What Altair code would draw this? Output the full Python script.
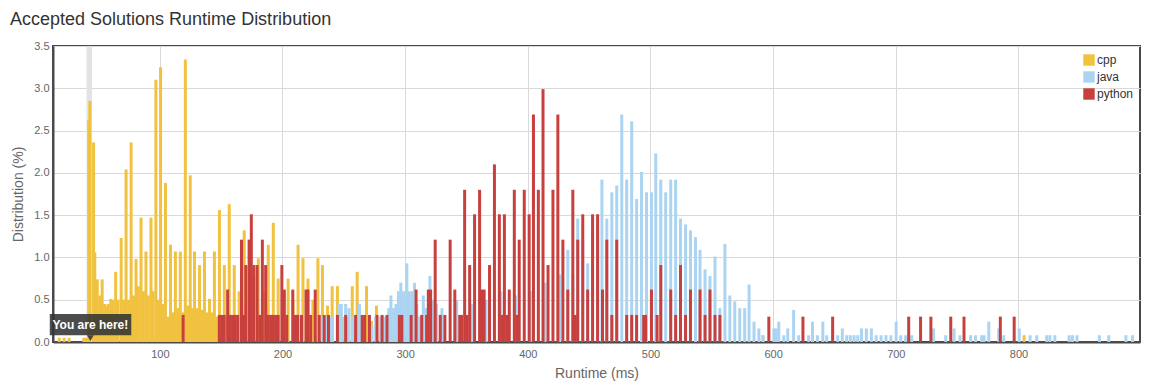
import altair as alt
import pandas as pd

# ---------------- data ----------------
langs = ["cpp", "java", "python"]
colors = ["#F0C23F", "#ABD4F2", "#C8403E"]

cpp_ms = [18, 22, 26, 38, 40, 42, 43, 46, 47, 49, 51, 53, 55, 56, 58, 60, 62, 64, 66,
          68.5, 70.5, 72.5, 74.5, 76.6, 78.5, 80.6, 82.5, 84.7, 86.6, 88.7, 90.6, 92.8,
          94.6, 96.8, 98.7, 100.6, 102.7, 104.6, 106.5, 108.7, 110.5, 112.7, 114.6, 116.7,
          118.6, 120.8, 122.7, 124.8, 126.5, 128.3, 130.4, 132.4, 134.4, 136.4, 138.5,
          140.5, 142.5, 144.5, 146.5, 148.6, 150.6, 152.6, 154.6, 156.6, 158.7, 160.7,
          164.7, 168.8, 172.8, 176.6, 180.3, 184.4, 188.4, 192.5, 196.5, 200.5, 204.6,
          208.6, 212.7, 216.7, 220.8, 224.8, 228.9, 232.6, 236.7, 240.5, 244.8, 248.8,
          252.9, 256.9, 260.9, 264.5, 268.5, 272.5, 276.6, 280, 290, 300, 591.7, 804.6]
cpp_pct = [0.05, 0.05, 0.05, 0.05, 0.05, 2.62, 2.85, 2.36, 1.06, 0.74, 0.55, 0.74, 0.45, 0.43,
           0.45, 0.51, 0.5, 0.83, 0.5, 1.23, 0.5, 2.04, 0.5, 2.36, 0.55, 0.98, 0.66, 1.47,
           0.6, 1.07, 0.55, 1.47, 0.6, 3.1, 0.5, 3.25, 0.45, 1.88, 0.3, 1.15, 0.35, 1.07,
           0.4, 1.07, 0.35, 3.34, 0.43, 1.97, 0.4, 1.07, 0.4, 0.91, 0.38, 1.07, 0.35, 0.51,
           0.35, 1.07, 0.3, 1.56, 0.3, 0.91, 0.3, 1.63, 0.3, 0.91, 0.6, 1.32, 0.9, 0.8,
           0.99, 0.6, 1.15, 1.41, 0.75, 0.6, 0.75, 0.5, 1.15, 0.99, 0.75, 0.5, 0.99, 0.91,
           0.43, 0.66, 0.66, 0.3, 0.3, 0.66, 0.83, 0.3, 0.66, 0.25, 0.43, 0.15, 0.1, 0.08,
           0.08, 0.08]

java_ms = [232.7, 234.5, 236.7, 238.5, 240.7, 246.1, 248, 251.5, 254.2, 257, 262.8, 266,
           273, 276, 280, 283, 286.6, 288.4, 290.6, 292.5, 294.5, 296.5, 298.7, 301.4,
           303.3, 305.4, 307.6, 309.5, 311.6, 314.8, 317, 320.2, 322.5, 325.6, 330, 342,
           354, 366, 378, 390, 402, 414, 426,
           432.6, 436.7, 440.7, 444.8, 448.8, 452.8, 456.9, 460.4, 464.4, 468.5, 472.5,
           476.6, 480.6, 484.7, 488.7, 492.7, 496.8, 500.8, 504.3, 508.4, 512.4, 516.5,
           520.5, 524.5, 528.6, 532.6, 536.7, 540.4, 544.5, 548.5, 552.6, 556.6, 560.7,
           564.7, 568.7, 572.8, 576.8, 580.4, 584.4, 588.4, 591.7, 600.6, 602.5, 604.6,
           608.7, 611.9, 616.7, 620.8, 628.9, 632.1, 636.1, 640.5, 643.7, 652.6, 656.4,
           660, 663, 666, 669, 672, 676, 680.1, 684, 688, 692, 696, 700.3, 704, 708, 713,
           730.7, 740.7, 747.5, 752.3, 761, 765, 770, 772, 775.8, 783.9, 788, 800.6,
           809.5, 814.9, 823, 825.6, 829.7, 841.3, 844, 847.7, 866, 873.6, 887.6, 893]
java_pct = [0.3, 0.3, 0.3, 0.3, 0.3, 0.45, 0.45, 0.45, 0.4, 0.3, 0.45, 0.3, 0.2, 0.3, 0.3,
            0.3, 0.4, 0.55, 0.4, 0.45, 0.6, 0.7, 0.6, 0.93, 0.6, 0.6, 0.7, 0.45, 0.3, 0.55,
            0.4, 0.78, 0.5, 0.45, 0.4, 0.5, 0.45, 0.5, 0.6, 0.55, 0.6, 0.7, 0.8,
            1.09, 0.8, 1.46, 1.2, 0.93, 1.3, 1.4, 1.92, 1.46, 1.77, 1.85, 2.69, 1.92, 2.61,
            1.69, 2.01, 1.77, 1.77, 2.23, 1.92, 1.77, 1.92, 1.92, 1.46, 1.39, 1.32, 1.24,
            1.09, 0.86, 0.78, 1.01, 0.4, 1.16, 0.55, 0.48, 0.4, 0.4, 0.68, 0.24, 0.16, 0.08,
            0.16, 0.16, 0.24, 0.08, 0.16, 0.38, 0.08, 0.08, 0.24, 0.08, 0.24, 0.08, 0.08,
            0.16, 0.08, 0.08, 0.08, 0.08, 0.16, 0.16, 0.16, 0.08, 0.08, 0.08, 0.08, 0.24,
            0.08, 0.08, 0.08, 0.16, 0.08, 0.16, 0.08, 0.08, 0.08, 0.08, 0.08, 0.24, 0.16,
            0.08, 0.16, 0.08, 0.08, 0.08, 0.08, 0.08, 0.08, 0.08, 0.08, 0.08, 0.08, 0.08,
            0.08]

py_ms = [119, 148.5, 150.5, 152.5, 155.3, 157.5, 159.5, 161.5, 163.5, 166.6, 168.5, 170.1,
         172.8, 174.6, 176.6, 179.3, 181.5, 183.6, 186.3, 188.4, 190.5, 192.5, 194.5,
         196.5, 199.5, 201.5, 203.5, 208.4, 210.5, 212.4, 215.5, 219.2, 220.8, 223, 226.7,
         230, 234, 237.5, 244.8, 251.5, 259.6, 265, 267, 270.9, 277.1, 281.2, 285.2, 295.3,
         297.3, 304.9, 308.9, 313.5, 317.5, 318.9, 320.8, 324.5, 328.6, 332.4, 336.7,
         340.5, 344.5, 346, 348.5, 350.5, 352.6, 356.6, 360.7, 362.5, 364.4, 368.8, 372.8,
         376.8, 378.8, 380.9, 382.9, 384.9, 389, 391, 393, 397.1, 401.1, 404.6, 408.6,
         412.4, 416.5, 420.5, 424.5, 428.6, 432.6, 436.7, 438.7, 440.7, 444.8, 448.8,
         452.8, 456.9, 460.9, 464.4, 468.5, 472.5, 480.6, 484.7, 488.7, 494.5, 496, 500.8,
         505.4, 508.4, 516.5, 520.5, 524.5, 528.6, 532.6, 540.4, 544.5, 548.5, 552.6,
         556.6, 596.5, 624.3, 648.5, 710.5, 720.2, 728.6, 744.8, 755.6, 785.2, 796.5]
py_pct = [0.32, 0.32, 0.32, 0.32, 0.62, 0.32, 0.32, 0.32, 0.32, 1.21, 0.32, 0.91, 1.21, 1.51,
          0.91, 0.91, 0.32, 1.21, 0.91, 0.32, 0.32, 0.32, 0.32, 0.32, 0.91, 0.62, 0.32, 0.62,
          0.32, 0.32, 0.32, 0.62, 0.62, 0.32, 0.62, 0.32, 0.32, 0.32, 0.32, 0.32, 0.32, 0.32,
          0.32, 0.32, 0.32, 0.32, 0.32, 0.32, 0.32, 0.32, 0.62, 0.32, 0.32, 0.62, 0.62, 1.21,
          0.32, 0.32, 1.21, 0.62, 0.32, 0.32, 1.8, 0.32, 0.91, 1.51, 1.8, 0.62, 0.62, 0.91,
          2.1, 1.51, 0.32, 1.51, 0.32, 0.62, 1.8, 0.32, 1.21, 1.8, 1.51, 2.69, 1.8, 2.99,
          0.91, 1.8, 2.69, 1.21, 0.62, 1.8, 0.32, 1.21, 1.51, 0.62, 1.51, 1.51, 0.62, 1.21,
          0.32, 1.21, 0.32, 0.32, 0.32, 0.32, 0.32, 0.62, 0.32, 0.91, 0.62, 0.32, 0.91, 0.32,
          0.62, 0.62, 0.32, 0.62, 0.32, 0.32, 0.3, 0.3, 0.3, 0.3, 0.3, 0.3, 0.3, 0.3, 0.3,
          0.3]

x_ticks = [100, 200, 300, 400, 500, 600, 700, 800]
y_ticks = [0, 0.5, 1.0, 1.5, 2.0, 2.5, 3.0, 3.5]

you_are_here_ms = 42.5
marker_label = "You are here!"

# ---------------- build table ----------------
rows = []
for lang, ms_list, pct_list in [("cpp", cpp_ms, cpp_pct), ("java", java_ms, java_pct),
                                ("python", py_ms, py_pct)]:
    for m, p in zip(ms_list, pct_list):
        rows.append({"ms": m, "pct": p, "lang": lang})
df = pd.DataFrame(rows)

FONT = "Liberation Sans"
x_scale = alt.Scale(domain=[17, 895], nice=False, zero=False)
y_scale = alt.Scale(domain=[0, 3.5], nice=False)

x_axis = alt.Axis(values=x_ticks, title="Runtime (ms)", grid=True, ticks=False,
                  labelPadding=6, titlePadding=7, format="d")
y_axis = alt.Axis(values=y_ticks, title="Distribution (%)", grid=True, ticks=False,
                  format=".1f", labelPadding=4, titlePadding=8)

# highlight column behind "you are here"
hl = pd.DataFrame({"a": [you_are_here_ms - 2.2], "b": [you_are_here_ms + 2.2],
                   "y0": [0], "y1": [3.5]})
highlight = alt.Chart(hl).mark_rect(color="#e3e3e3").encode(
    x=alt.X("a:Q", scale=x_scale, axis=x_axis), x2="b:Q",
    y=alt.Y("y0:Q", scale=y_scale, axis=y_axis), y2="y1:Q")

bars = alt.Chart(df).mark_bar(size=3, opacity=1).encode(
    x=alt.X("ms:Q", scale=x_scale, axis=x_axis),
    y=alt.Y("pct:Q", stack=None, scale=y_scale, axis=y_axis),
    color=alt.Color("lang:N", scale=alt.Scale(domain=langs, range=colors),
                    legend=alt.Legend(title=None, orient="none", legendX=1030, legendY=8,
                                      symbolType="square", symbolSize=130,
                                      symbolStrokeWidth=0, labelFontSize=12,
                                      labelColor="#333", labelFont=FONT, rowPadding=5,
                                      labelOffset=2, padding=0)))

box = pd.DataFrame({"a": [10.3], "b": [76.7], "y0": [0.08], "y1": [0.33]})
tip_box = alt.Chart(box).mark_rect(color="#333333", opacity=0.88, clip=False).encode(
    x=alt.X("a:Q", scale=x_scale), x2="b:Q",
    y=alt.Y("y0:Q", scale=y_scale), y2="y1:Q")

tip_df = pd.DataFrame({"ms": [43.4], "pct": [0.205], "label": [marker_label],
                       "py": [0.045]})
tip_text = alt.Chart(tip_df).mark_text(color="white", fontWeight="bold", fontSize=12,
                                       font=FONT, align="center", baseline="middle").encode(
    x=alt.X("ms:Q", scale=x_scale), y=alt.Y("pct:Q", scale=y_scale), text="label:N")
tip_arrow = alt.Chart(tip_df).mark_point(shape="triangle-down", filled=True, size=45,
                                         color="#333333", opacity=0.88).encode(
    x=alt.X("ms:Q", scale=x_scale), y=alt.Y("py:Q", scale=y_scale))

chart = alt.layer(highlight, bars, tip_box, tip_arrow, tip_text).properties(
    width=1087, height=296,
    autosize=alt.AutoSizeParams(type="none"),
    padding={"left": 45, "top": 38, "right": 2, "bottom": 45},
    title=alt.TitleParams("Accepted Solutions Runtime Distribution", anchor="start",
                          fontSize=18, font=FONT, fontWeight="normal", color="#333",
                          dx=-43, dy=3, offset=0, baseline="alphabetic", frame="group"),
).configure_view(stroke="#4a4a4a", strokeWidth=2).configure_axis(
    labelFont=FONT, titleFont=FONT, labelFontSize=11, titleFontSize=14,
    labelColor="#666", titleColor="#666", titleFontWeight="normal",
    gridColor="#d9d9d9", domainColor="#4a4a4a", domainWidth=2)

chart.save("out.html", embed_options={"renderer": "svg", "actions": False})
